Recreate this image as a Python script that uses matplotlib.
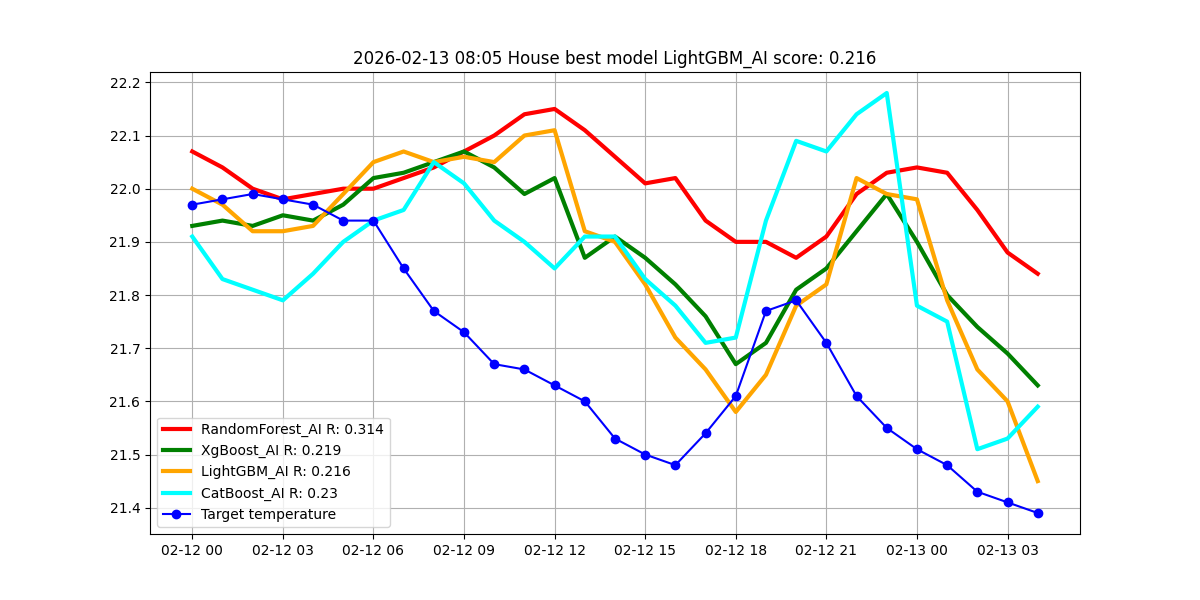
import matplotlib
matplotlib.use("Agg")
import matplotlib.pyplot as plt
import pandas as pd

times = pd.date_range("2026-02-12 00:00", periods=29, freq="h")

random_forest = [22.07, 22.04, 22.00, 21.98, 21.99, 22.00, 22.00, 22.02, 22.04, 22.07,
                 22.10, 22.14, 22.15, 22.11, 22.06, 22.01, 22.02, 21.94, 21.90, 21.90,
                 21.87, 21.91, 21.99, 22.03, 22.04, 22.03, 21.96, 21.88, 21.84]
xgboost = [21.93, 21.94, 21.93, 21.95, 21.94, 21.97, 22.02, 22.03, 22.05, 22.07,
           22.04, 21.99, 22.02, 21.87, 21.91, 21.87, 21.82, 21.76, 21.67, 21.71,
           21.81, 21.85, 21.92, 21.99, 21.90, 21.80, 21.74, 21.69, 21.63]
lightgbm = [22.00, 21.97, 21.92, 21.92, 21.93, 21.99, 22.05, 22.07, 22.05, 22.06,
            22.05, 22.10, 22.11, 21.92, 21.90, 21.82, 21.72, 21.66, 21.58, 21.65,
            21.78, 21.82, 22.02, 21.99, 21.98, 21.79, 21.66, 21.60, 21.45]
catboost = [21.91, 21.83, 21.81, 21.79, 21.84, 21.90, 21.94, 21.96, 22.05, 22.01,
            21.94, 21.90, 21.85, 21.91, 21.91, 21.83, 21.78, 21.71, 21.72, 21.94,
            22.09, 22.07, 22.14, 22.18, 21.78, 21.75, 21.51, 21.53, 21.59]
target = [21.97, 21.98, 21.99, 21.98, 21.97, 21.94, 21.94, 21.85, 21.77, 21.73,
          21.67, 21.66, 21.63, 21.60, 21.53, 21.50, 21.48, 21.54, 21.61, 21.77,
          21.79, 21.71, 21.61, 21.55, 21.51, 21.48, 21.43, 21.41, 21.39]

labels = ["RandomForest_AI R: 0.314", "XgBoost_AI R: 0.219",
          "LightGBM_AI R: 0.216", "CatBoost_AI R: 0.23"]
colors = ["red", "green", "orange", "cyan"]

fig, ax = plt.subplots(figsize=(12, 6), dpi=100)
for series, lab, c in zip([random_forest, xgboost, lightgbm, catboost], labels, colors):
    ax.plot(times, series, color=c, linewidth=3, label=lab)
ax.plot(times, target, color="blue", marker="o", linewidth=1.5, label="Target temperature")
ax.set_title("2026-02-13 08:05 House best model LightGBM_AI score: 0.216")
ax.grid(True)
ax.legend(loc="lower left")
fig.savefig("out.png")
